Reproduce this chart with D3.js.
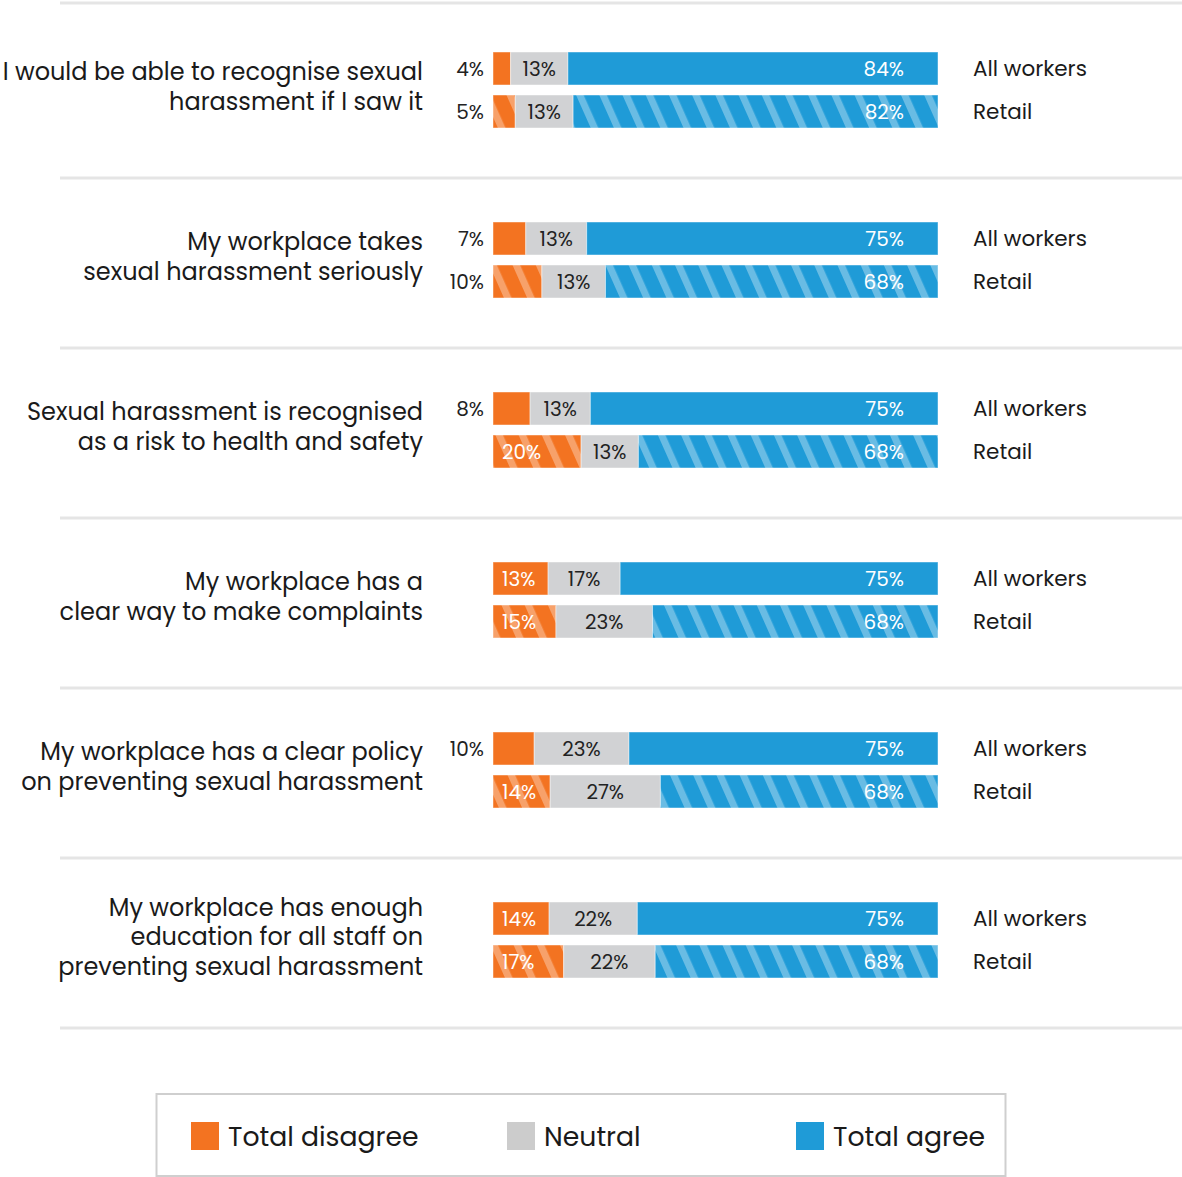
<!DOCTYPE html>
<html>
<head>
<meta charset="utf-8">
<script src="https://cdn.jsdelivr.net/npm/d3@7"></script>
<style>
  html, body { margin: 0; padding: 0; background: #ffffff; }
  svg { display: block; font-family: Poppins, "Open Sans", sans-serif; }
</style>
</head>
<body>
<svg id="chart" width="1182" height="1177"></svg>
<script>
// Survey statements (each entry is the wrapped lines of one statement)
const statements = [
  ["I would be able to recognise sexual", "harassment if I saw it"],
  ["My workplace takes", "sexual harassment seriously"],
  ["Sexual harassment is recognised", "as a risk to health and safety"],
  ["My workplace has a", "clear way to make complaints"],
  ["My workplace has a clear policy", "on preventing sexual harassment"],
  ["My workplace has enough", "education for all staff on", "preventing sexual harassment"]
];
const groups = ["All workers", "Retail"];
const responses = ["Total disagree", "Neutral", "Total agree"];

// Percentages per statement, all workers
const disagreeAll = [4, 7, 8, 13, 10, 14];
const neutralAll  = [13, 13, 13, 17, 23, 22];
const agreeAll    = [84, 75, 75, 75, 75, 75];
// Percentages per statement, retail workers
const disagreeRetail = [5, 10, 20, 15, 14, 17];
const neutralRetail  = [13, 13, 13, 23, 27, 22];
const agreeRetail    = [82, 68, 68, 68, 68, 68];

const colors = { "Total disagree": "#f37321", "Neutral": "#d1d2d4", "Total agree": "#1f9bd7" };
const legendColors = { "Total disagree": "#f37321", "Neutral": "#cccccc", "Total agree": "#1f9bd7" };

// Build rows: one per statement × group
const rows = [];
statements.forEach((s, i) => {
  rows.push({ si: i, group: "All workers", "Total disagree": disagreeAll[i], "Neutral": neutralAll[i], "Total agree": agreeAll[i] });
  rows.push({ si: i, group: "Retail", "Total disagree": disagreeRetail[i], "Neutral": neutralRetail[i], "Total agree": agreeRetail[i] });
});

const svg = d3.select("#chart");

// Scales
const x = d3.scaleLinear().domain([0, 1]).range([493, 938]);
const yGroup = d3.scaleBand().domain(d3.range(statements.length)).range([8, 8 + 170 * statements.length]).padding(0);
const yInner = d3.scaleBand().domain(groups).range([44, 120]).paddingInner(10 / 43).paddingOuter(0);

// Diagonal hatch patterns for the retail bars
const defs = svg.append("defs");
Object.entries(colors).forEach(([k, c], idx) => {
  const p = defs.append("pattern")
    .attr("id", "hatch" + idx)
    .attr("patternUnits", "userSpaceOnUse")
    .attr("width", 21.2).attr("height", 20)
    .attr("patternTransform", "rotate(-24)");
  p.append("rect").attr("width", 21.2).attr("height", 20).attr("fill", c);
  if (k !== "Neutral") {
    p.append("rect").attr("x", 0).attr("width", 7).attr("height", 20)
      .attr("fill", "#ffffff").attr("fill-opacity", 0.33);
  }
});

// Separator lines
const sepYs = [3].concat(d3.range(1, statements.length + 1).map(i => yGroup.range()[0] + i * yGroup.step()));
svg.append("g").selectAll("line").data(sepYs).join("line")
  .attr("x1", 60).attr("x2", 1182)
  .attr("y1", d => d).attr("y2", d => d)
  .attr("stroke", "#e5e5e5").attr("stroke-width", 3);

// Statement labels
const labelG = svg.append("g");
statements.forEach((lines, i) => {
  const center = yGroup(i) + 79;
  const lh = 29.5;
  const top = center - (lines.length - 1) * lh / 2;
  lines.forEach((ln, j) => {
    labelG.append("text")
      .attr("x", 423).attr("y", top + j * lh + 8)
      .attr("text-anchor", "end")
      .attr("font-size", 24).attr("fill", "#1a1a1a")
      .text(ln);
  });
});

// Stacked 100% bars
const stack = d3.stack().keys(responses).offset(d3.stackOffsetExpand);
const series = stack(rows);
const rowY = d => yGroup(d.data.si) + yInner(d.data.group);
const bh = yInner.bandwidth();

const barG = svg.append("g");
series.forEach((s, k) => {
  const key = s.key;
  barG.append("g").selectAll("rect").data(s).join("rect")
    .attr("x", d => x(d[0]))
    .attr("y", d => rowY(d))
    .attr("width", d => x(d[1]) - x(d[0]))
    .attr("height", bh)
    .attr("fill", d => d.data.group === "Retail" ? `url(#hatch${k})` : colors[key])
    .attr("stroke", "#ffffff").attr("stroke-opacity", 0.45).attr("stroke-width", 1);
});

// Value labels
const valG = svg.append("g").attr("font-size", 20);
series.forEach(s => {
  const key = s.key;
  s.forEach(d => {
    const v = d.data[key];
    const x0 = x(d[0]), x1 = x(d[1]);
    const cy = rowY(d) + bh / 2 + 7;
    const t = valG.append("text").attr("y", cy).text(v + "%");
    if (key === "Total disagree") {
      if (x1 - x0 >= 50) {
        t.attr("x", x0 + 9).attr("text-anchor", "start").attr("fill", "#ffffff");
      } else {
        t.attr("x", 484).attr("text-anchor", "end").attr("fill", "#222222");
      }
    } else if (key === "Neutral") {
      t.attr("x", (x0 + x1) / 2).attr("text-anchor", "middle").attr("fill", "#222222");
    } else {
      t.attr("x", x1 - 34).attr("text-anchor", "end").attr("fill", "#ffffff");
    }
  });
});

// Group labels on the right
const grpG = svg.append("g");
statements.forEach((_, i) => {
  groups.forEach(g => {
    grpG.append("text")
      .attr("x", 973)
      .attr("y", yGroup(i) + yInner(g) + bh / 2 + 7.5)
      .attr("font-size", 21.5).attr("fill", "#1a1a1a")
      .text(g);
  });
});

// Legend
const legend = svg.append("g");
legend.append("rect")
  .attr("x", 156.5).attr("y", 1094).attr("width", 849).attr("height", 82)
  .attr("fill", "#ffffff").attr("stroke", "#cfcfcf").attr("stroke-width", 2);
const legendX = d3.scaleOrdinal().domain(responses).range([191, 507, 796]);
responses.forEach(r => {
  legend.append("rect")
    .attr("x", legendX(r)).attr("y", 1122).attr("width", 28).attr("height", 28)
    .attr("fill", legendColors[r]);
  legend.append("text")
    .attr("x", legendX(r) + 37).attr("y", 1146)
    .attr("font-size", 26.7).attr("fill", "#1a1a1a")
    .text(r);
});
</script>
</body>
</html>
